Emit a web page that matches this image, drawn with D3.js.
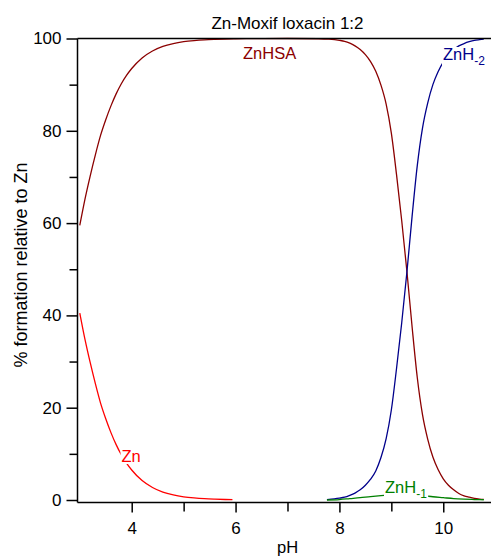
<!DOCTYPE html>
<html>
<head>
<meta charset="utf-8">
<script src="https://cdn.jsdelivr.net/npm/d3@7"></script>
<style>
  html, body { margin: 0; padding: 0; background: #fff; }
  svg { display: block; font-family: "Liberation Sans", Arial, sans-serif; }
</style>
</head>
<body>
<svg id="chart" width="491" height="558"></svg>
<script>
// ---- data ----
const titleText = "Zn-Moxif loxacin 1:2";
const xLabel = "pH";
const yLabel = "% formation relative to Zn";
const xMajorTicks = [4, 6, 8, 10];
const xMinorTicks = [5, 7, 9];
const yMajorTicks = [0, 20, 40, 60, 80, 100];
const yMinorTicks = [10, 30, 50, 70, 90];

// free Zn
const znPH  = [3.0, 3.1, 3.2, 3.3, 3.4, 3.5, 3.6, 3.7, 3.8, 3.9, 4.0, 4.2, 4.4, 4.6, 4.8, 5.0, 5.2, 5.4, 5.6, 5.8, 5.94];
const znVal = [40.5, 34.8, 29.8, 25.2, 21.0, 17.6, 14.6, 12.0, 9.8, 8.0, 6.5, 4.2, 2.7, 1.7, 1.1, 0.7, 0.45, 0.28, 0.18, 0.11, 0.08];

// ZnHSA
const znhsaPH  = [3.0, 3.1, 3.2, 3.3, 3.4, 3.5, 3.6, 3.7, 3.8, 3.9, 4.0, 4.2, 4.4, 4.6, 4.8, 5.0, 5.2, 5.4, 5.6, 5.8, 6.0, 6.5, 7.0, 7.6, 7.8, 8.0, 8.1, 8.2, 8.3, 8.4, 8.5, 8.6, 8.7, 8.8, 8.9, 9.0, 9.1, 9.2, 9.3, 9.4, 9.5, 9.6, 9.7, 9.8, 9.9, 10.0, 10.1, 10.2, 10.3, 10.4, 10.5, 10.6, 10.7, 10.78];
const znhsaVal = [59.5, 65.2, 70.2, 74.8, 79.0, 82.4, 85.4, 88.0, 90.2, 92.0, 93.5, 95.8, 97.3, 98.3, 98.9, 99.3, 99.55, 99.72, 99.82, 99.89, 99.93, 99.98, 100, 99.95, 99.85, 99.6, 99.4, 99.0, 98.4, 97.6, 96.5, 95.0, 92.9, 89.9, 85.8, 79.5, 70.5, 60.5, 49.5, 37.5, 26.5, 18.5, 13.2, 9.3, 6.6, 4.6, 3.2, 2.2, 1.4, 0.9, 0.6, 0.35, 0.2, 0.12];

// ZnH-2
const znh2PH  = [7.76, 7.9, 8.0, 8.1, 8.2, 8.3, 8.4, 8.5, 8.6, 8.7, 8.8, 8.9, 9.0, 9.1, 9.2, 9.3, 9.4, 9.5, 9.6, 9.7, 9.8, 9.9, 10.0, 10.1, 10.2, 10.3, 10.4, 10.5, 10.6, 10.7, 10.78];
const znh2Val = [0.1, 0.25, 0.4, 0.6, 1.0, 1.5, 2.2, 3.2, 4.5, 6.3, 9.2, 13.3, 19.5, 28.5, 38.4, 49.4, 61.5, 72.5, 80.6, 86.0, 90.0, 92.8, 94.9, 96.4, 97.5, 98.4, 98.9, 99.3, 99.6, 99.75, 99.85];

// ZnH-1
const znh1PH  = [7.76, 8.0, 8.2, 8.4, 8.6, 8.8, 9.0, 9.2, 9.4, 9.6, 9.8, 10.0, 10.2, 10.4, 10.6, 10.78];
const znh1Val = [0.0, 0.1, 0.3, 0.5, 0.75, 0.95, 1.1, 1.15, 1.1, 0.95, 0.7, 0.5, 0.3, 0.18, 0.1, 0.05];

const seriesDefs = [
  { name: "Zn",    ph: znPH,    val: znVal,    color: "#ff0000" },
  { name: "ZnHSA", ph: znhsaPH, val: znhsaVal, color: "#8b0000" },
  { name: "ZnH-2", ph: znh2PH,  val: znh2Val,  color: "#00008b" },
  { name: "ZnH-1", ph: znh1PH,  val: znh1Val,  color: "#008000" }
];

// ---- layout ----
const svg = d3.select("#chart");
const plotL = 77.5, plotR = 490, plotT = 38.5, zeroY = 500, axisY = 502.5;
const x = d3.scaleLinear().domain([2.956, 10.9]).range([plotL, plotR]);
const y = d3.scaleLinear().domain([0, 100]).range([zeroY, plotT]);

// curves
const line = d3.line().x(d => x(d[0])).y(d => y(d[1])).curve(d3.curveMonotoneX);
seriesDefs.forEach(s => {
  const pts = s.ph.map((p, i) => [p, s.val[i]]);
  svg.append("path").datum(pts)
    .attr("d", line)
    .attr("fill", "none")
    .attr("stroke", s.color)
    .attr("stroke-width", 1.3);
});

// curve labels with white background
function addLabel(main, sub, px, py, color) {
  const g = svg.append("g");
  const t = g.append("text").attr("x", px).attr("y", py)
    .attr("fill", color).attr("font-size", 16.5);
  t.append("tspan").text(main);
  if (sub) t.append("tspan").text(sub).attr("font-size", 12).attr("dy", 5);
  const bb = t.node().getBBox();
  g.insert("rect", "text")
    .attr("x", bb.x - 1).attr("y", bb.y + 2)
    .attr("width", bb.width + 2).attr("height", bb.height - 3)
    .attr("fill", "#fff");
}
addLabel("ZnHSA", null, 243, 59, "#8b0000");
addLabel("ZnH", "-2", 443, 60, "#00008b");
addLabel("ZnH", "-1", 385, 492.5, "#008000");
addLabel("Zn", null, 121.5, 462, "#ff0000");

// axes
const axisG = svg.append("g").attr("stroke", "#000").attr("stroke-width", 1.5);
axisG.append("line").attr("x1", plotL).attr("x2", plotL).attr("y1", plotT).attr("y2", axisY);
axisG.append("line").attr("x1", plotL).attr("x2", 491).attr("y1", axisY).attr("y2", axisY);
axisG.append("line").attr("x1", plotL).attr("x2", 491).attr("y1", plotT).attr("y2", plotT);

// y axis ticks
const yAxis = d3.axisLeft(y).tickValues(yMajorTicks).tickSize(11).tickPadding(5);
const yg = svg.append("g").attr("transform", `translate(${plotL},0)`).call(yAxis);
yg.select(".domain").remove();
yg.selectAll(".tick line").attr("stroke-width", 1.5);
yg.selectAll(".tick text").attr("font-size", 17).attr("font-family", "Liberation Sans, Arial, sans-serif").attr("fill", "#000");
const yMinor = d3.axisLeft(y).tickValues(yMinorTicks).tickSize(8).tickFormat("");
const ymg = svg.append("g").attr("transform", `translate(${plotL},0)`).call(yMinor);
ymg.select(".domain").remove();
ymg.selectAll(".tick line").attr("stroke-width", 1.5);

// x axis ticks
const xAxis = d3.axisBottom(x).tickValues(xMajorTicks).tickSize(10).tickPadding(9).tickFormat(d3.format("d"));
const xg = svg.append("g").attr("transform", `translate(0,${axisY})`).call(xAxis);
xg.select(".domain").remove();
xg.selectAll(".tick line").attr("stroke-width", 1.5);
xg.selectAll(".tick text").attr("font-size", 17).attr("font-family", "Liberation Sans, Arial, sans-serif").attr("fill", "#000");
const xMinor = d3.axisBottom(x).tickValues(xMinorTicks).tickSize(9).tickFormat("");
const xmg = svg.append("g").attr("transform", `translate(0,${axisY})`).call(xMinor);
xmg.select(".domain").remove();
xmg.selectAll(".tick line").attr("stroke-width", 1.5);

// titles
svg.append("text").attr("x", 287.5).attr("y", 29).attr("text-anchor", "middle")
  .attr("font-size", 17).attr("fill", "#000").text(titleText);
svg.append("text").attr("x", 287.5).attr("y", 553).attr("text-anchor", "middle")
  .attr("font-size", 16.5).attr("fill", "#000").text(xLabel);
svg.append("text").attr("transform", "translate(26.5,265) rotate(-90)").attr("text-anchor", "middle")
  .attr("font-size", 18).attr("fill", "#000").text(yLabel);
</script>
</body>
</html>
